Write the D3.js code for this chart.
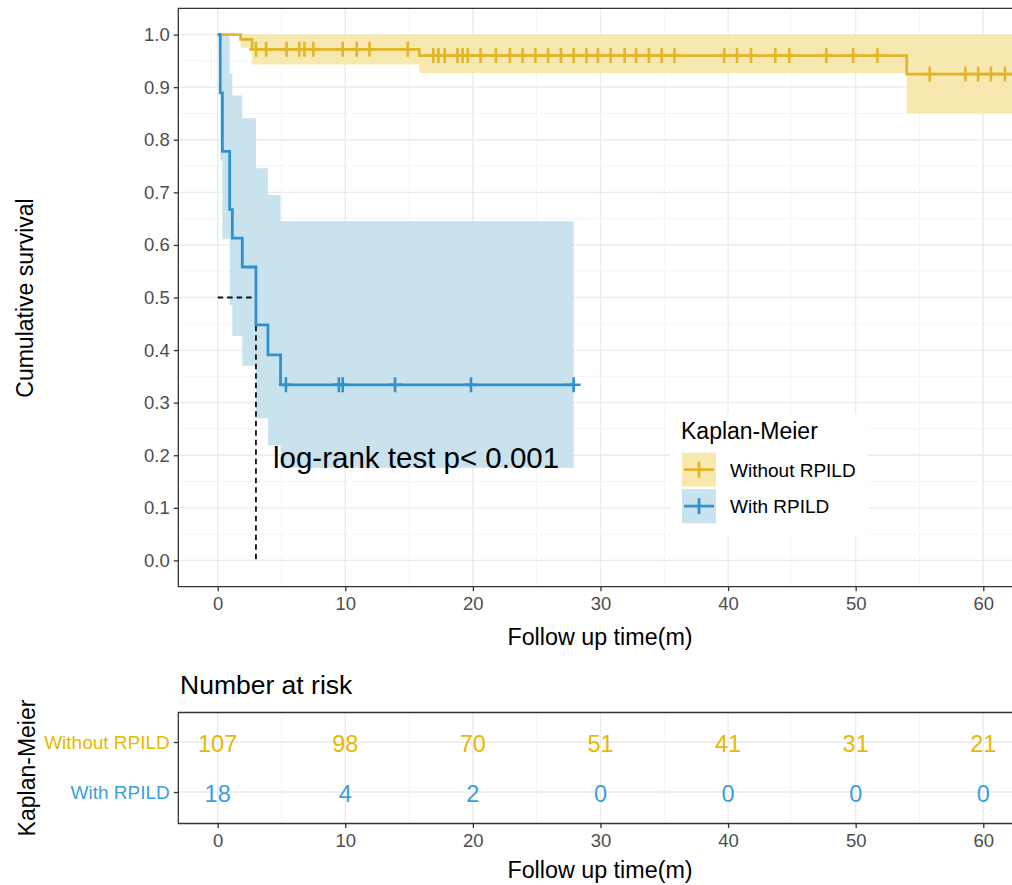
<!DOCTYPE html>
<html>
<head>
<meta charset="utf-8">
<script src="https://cdnjs.cloudflare.com/ajax/libs/d3/7.8.5/d3.min.js"></script>
<style>
  body { margin: 0; background: #fff; }
  text { font-family: "Liberation Sans", Arial, sans-serif; }
</style>
</head>
<body>
<script>
// data
var groups = ["Without RPILD", "With RPILD"];
var colors = ["#E2B52B", "#2F92CF"];
var bandColors = ["#F6E5A6", "#C2DFEC"];
var textColors = ["#E7B800", "#3A9FDB"];
var timeTicks = [0, 10, 20, 30, 40, 50, 60];
var survTicks = [0, 0.1, 0.2, 0.3, 0.4, 0.5, 0.6, 0.7, 0.8, 0.9, 1.0];

// Without RPILD: step times, survival, CI
var woTime  = [0, 1.8, 2.7, 15.8, 54.0];
var woSurv  = [1, 0.991, 0.972, 0.960, 0.925];
var woLower = [1, 0.975, 0.943, 0.927, 0.850];
var woUpper = [1, 1, 1, 1, 1];
var woEnd = 63;
var woCensor = [3.0, 3.8, 5.4, 6.4, 6.8, 7.5, 9.8, 10.9, 11.9, 14.9, 16.9, 17.3, 17.8,
  18.8, 19.2, 19.6, 20.6, 21.8, 22.9, 23.9, 24.9, 25.9, 26.9, 27.9, 28.9, 29.8, 30.8,
  31.9, 32.8, 33.8, 34.8, 35.8, 39.7, 40.7, 41.8, 43.7, 44.8, 47.7, 49.8, 51.7, 55.8,
  58.6, 59.6, 60.6, 61.7];

// With RPILD
var wTime  = [0, 0.2, 0.37, 0.94, 1.15, 1.93, 3.0, 3.94, 4.93];
var wSurv  = [1, 0.889, 0.778, 0.667, 0.613, 0.558, 0.448, 0.391, 0.334];
var wLower = [1, 0.76, 0.611, 0.486, 0.427, 0.37, 0.27, 0.219, 0.176];
var wUpper = [1, 1, 1, 0.925, 0.884, 0.841, 0.746, 0.695, 0.645];
var wEnd = 27.9;
var wCensor = [5.35, 9.5, 9.8, 13.9, 19.85, 27.9];

// number at risk
var riskWithout = [107, 98, 70, 51, 41, 31, 21];
var riskWith = [18, 4, 2, 0, 0, 0, 0];

var width = 1012, height = 885;
var svg = d3.select("body").append("svg")
  .attr("width", width).attr("height", height);

// main panel
var pl = 178.3, pt = 8.3, pb = 586.7;
var x = d3.scaleLinear().domain([-3.085, 64.8]).range([pl, pl + 67.885 * 12.76]);
var y = d3.scaleLinear().domain([-0.05, 1.05]).range([pb, pt]);

svg.append("defs").append("clipPath").attr("id", "clipMain")
  .append("rect").attr("x", pl).attr("y", pt).attr("width", width - pl).attr("height", pb - pt);

var grid = svg.append("g");
// minor grid
d3.range(5, 65, 10).forEach(function(t) {
  grid.append("line").attr("x1", x(t)).attr("x2", x(t)).attr("y1", pt).attr("y2", pb)
    .attr("stroke", "#F2F2F2").attr("stroke-width", 0.8);
});
d3.range(0.05, 1.0, 0.1).forEach(function(v) {
  grid.append("line").attr("x1", pl).attr("x2", width).attr("y1", y(v)).attr("y2", y(v))
    .attr("stroke", "#F2F2F2").attr("stroke-width", 0.8);
});
timeTicks.forEach(function(t) {
  grid.append("line").attr("x1", x(t)).attr("x2", x(t)).attr("y1", pt).attr("y2", pb)
    .attr("stroke", "#EAEAEA").attr("stroke-width", 1.3);
});
survTicks.forEach(function(v) {
  grid.append("line").attr("x1", pl).attr("x2", width).attr("y1", y(v)).attr("y2", y(v))
    .attr("stroke", "#EAEAEA").attr("stroke-width", 1.3);
});

function steps(time, vals, end) {
  var pts = time.map(function(t, i) { return [t, vals[i]]; });
  pts.push([end, vals[vals.length - 1]]);
  return pts;
}
function survAt(time, surv, t) {
  var i = d3.bisectRight(time, t) - 1;
  return surv[Math.max(i, 0)];
}

var plot = svg.append("g").attr("clip-path", "url(#clipMain)");
var line = d3.line().curve(d3.curveStepAfter)
  .x(function(d) { return x(d[0]); }).y(function(d) { return y(d[1]); });
var area = d3.area().curve(d3.curveStepAfter)
  .x(function(d) { return x(d[0]); })
  .y0(function(d) { return y(d[1]); }).y1(function(d) { return y(d[2]); });

var series = [
  { time: woTime, surv: woSurv, lower: woLower, upper: woUpper, end: woEnd, censor: woCensor, color: colors[0], band: bandColors[0] },
  { time: wTime, surv: wSurv, lower: wLower, upper: wUpper, end: wEnd, censor: wCensor, color: colors[1], band: bandColors[1] }
];

series.forEach(function(s) {
  var band = s.time.map(function(t, i) { return [t, s.lower[i], s.upper[i]]; });
  band.push([s.end, s.lower[s.lower.length - 1], s.upper[s.upper.length - 1]]);
  plot.append("path").attr("d", area(band)).attr("fill", s.band).attr("fill-opacity", 0.9);
});

// median line
var medIdx = wSurv.findIndex(function(v) { return v <= 0.5; });
var medT = wTime[medIdx];
plot.append("path")
  .attr("d", "M" + x(0) + "," + y(0.5) + "H" + x(medT) + "V" + y(0))
  .attr("fill", "none").attr("stroke", "#111").attr("stroke-width", 1.8)
  .attr("stroke-dasharray", "5.5,4");

series.forEach(function(s) {
  plot.append("path").attr("d", line(steps(s.time, s.surv, s.end)))
    .attr("fill", "none").attr("stroke", s.color).attr("stroke-width", 2.8);
  s.censor.forEach(function(t) {
    var cx = x(t), cy = y(survAt(s.time, s.surv, t));
    plot.append("path")
      .attr("d", "M" + (cx - 7) + "," + cy + "H" + (cx + 7) + "M" + cx + "," + (cy - 7.5) + "V" + (cy + 7.5))
      .attr("stroke", s.color).attr("stroke-width", 2.6);
  });
});

// p-value
svg.append("text").attr("x", 273).attr("y", 468).attr("font-size", 29.5)
  .attr("fill", "#000").text("log-rank test p< 0.001");

// panel border
svg.append("path")
  .attr("d", "M" + width + "," + pt + "H" + pl + "V" + pb + "H" + width)
  .attr("fill", "none").attr("stroke", "#333").attr("stroke-width", 1.3);

// axes
var yAxis = svg.append("g").attr("transform", "translate(" + pl + ",0)")
  .call(d3.axisLeft(y).tickValues(survTicks).tickFormat(d3.format(".1f")).tickSize(4.5).tickPadding(4));
var xAxis = svg.append("g").attr("transform", "translate(0," + pb + ")")
  .call(d3.axisBottom(x).tickValues(timeTicks).tickSize(4.5).tickPadding(6));
[yAxis, xAxis].forEach(function(a) {
  a.select(".domain").remove();
  a.selectAll(".tick line").attr("stroke", "#333").attr("stroke-width", 1.3);
  a.selectAll(".tick text").attr("fill", "#4D4D4D").attr("font-size", 18.5)
    .attr("font-family", "Liberation Sans, Arial, sans-serif");
});

svg.append("text").attr("transform", "translate(33,298) rotate(-90)")
  .attr("text-anchor", "middle").attr("font-size", 23).text("Cumulative survival");
svg.append("text").attr("x", 600).attr("y", 645).attr("text-anchor", "middle")
  .attr("font-size", 23.3).text("Follow up time(m)");

// legend
var lg = svg.append("g");
lg.append("rect").attr("x", 670).attr("y", 414).attr("width", 198).attr("height", 121).attr("fill", "#fff");
lg.append("text").attr("x", 681).attr("y", 439).attr("font-size", 23).text("Kaplan-Meier");
groups.forEach(function(g, i) {
  var ky = 452.7 + i * 36.5;
  lg.append("rect").attr("x", 682).attr("y", ky).attr("width", 34).attr("height", 34)
    .attr("fill", bandColors[i]).attr("fill-opacity", 0.9);
  lg.append("path")
    .attr("d", "M684," + (ky + 17) + "H714M699," + (ky + 9) + "V" + (ky + 25))
    .attr("stroke", colors[i]).attr("stroke-width", 2.8);
  lg.append("text").attr("x", 730).attr("y", ky + 17).attr("dy", "0.36em")
    .attr("font-size", 19).text(g);
});

// risk table
svg.append("text").attr("x", 180).attr("y", 694).attr("font-size", 26.5).text("Number at risk");
var tt = 712.5, tb = 823.5;
var yr = d3.scalePoint().domain(groups).range([742, 792]);

var rg = svg.append("g");
d3.range(5, 65, 10).forEach(function(t) {
  rg.append("line").attr("x1", x(t)).attr("x2", x(t)).attr("y1", tt).attr("y2", tb)
    .attr("stroke", "#F2F2F2").attr("stroke-width", 0.8);
});
timeTicks.forEach(function(t) {
  rg.append("line").attr("x1", x(t)).attr("x2", x(t)).attr("y1", tt).attr("y2", tb)
    .attr("stroke", "#EAEAEA").attr("stroke-width", 1.3);
});
groups.forEach(function(g) {
  rg.append("line").attr("x1", pl).attr("x2", width).attr("y1", yr(g)).attr("y2", yr(g))
    .attr("stroke", "#EAEAEA").attr("stroke-width", 1.3);
});

var riskRows = [riskWithout, riskWith];
riskRows.forEach(function(row, i) {
  rg.selectAll(null).data(row).enter().append("text")
    .attr("x", function(d, j) { return x(timeTicks[j]); })
    .attr("y", yr(groups[i]) + 2)
    .attr("dy", "0.36em")
    .attr("text-anchor", "middle")
    .attr("font-size", 23.5)
    .attr("fill", textColors[i])
    .text(function(d) { return d; });
});

svg.append("path")
  .attr("d", "M" + width + "," + tt + "H" + pl + "V" + tb + "H" + width)
  .attr("fill", "none").attr("stroke", "#333").attr("stroke-width", 1.3);

var ryAxis = svg.append("g").attr("transform", "translate(" + pl + ",0)")
  .call(d3.axisLeft(yr).tickSize(4.5).tickPadding(4));
var rxAxis = svg.append("g").attr("transform", "translate(0," + tb + ")")
  .call(d3.axisBottom(x).tickValues(timeTicks).tickSize(4.5).tickPadding(6));
[ryAxis, rxAxis].forEach(function(a) {
  a.select(".domain").remove();
  a.selectAll(".tick line").attr("stroke", "#333").attr("stroke-width", 1.3);
  a.selectAll(".tick text").attr("font-family", "Liberation Sans, Arial, sans-serif");
});
rxAxis.selectAll(".tick text").attr("fill", "#4D4D4D").attr("font-size", 18.5);
ryAxis.selectAll(".tick text").attr("font-size", 19)
  .attr("fill", function(d, i) { return textColors[i]; });

svg.append("text").attr("transform", "translate(35,768) rotate(-90)")
  .attr("text-anchor", "middle").attr("font-size", 23).text("Kaplan-Meier");
svg.append("text").attr("x", 600).attr("y", 878).attr("text-anchor", "middle")
  .attr("font-size", 23.3).text("Follow up time(m)");
</script>
</body>
</html>
